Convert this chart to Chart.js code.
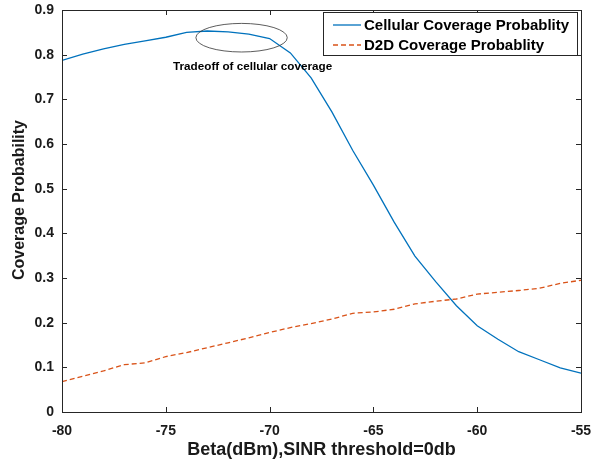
<!DOCTYPE html>
<html>
<head>
<meta charset="utf-8">
<script src="https://cdn.jsdelivr.net/npm/chart.js@4.4.1/dist/chart.umd.min.js"></script>
<style>
  html, body { margin: 0; padding: 0; background: #fff; }
  #wrap { width: 606px; height: 465px; position: relative; }
</style>
</head>
<body>
<div id="wrap"><canvas id="c" width="606" height="465"></canvas></div>
<script>
// x values (Beta, dBm)
var beta = [-80, -79, -78, -77, -76, -75, -74, -73, -72, -71, -70, -69, -68,
            -67, -66, -65, -64, -63, -62, -61, -60, -59, -58, -57, -56, -55];
var cellular = [0.787, 0.801, 0.813, 0.823, 0.831, 0.839, 0.850, 0.853, 0.851,
                0.846, 0.836, 0.804, 0.748, 0.672, 0.586, 0.508, 0.425, 0.349,
                0.292, 0.238, 0.193, 0.163, 0.135, 0.117, 0.099, 0.087];
var d2d = [0.068, 0.080, 0.092, 0.106, 0.110, 0.124, 0.133, 0.144, 0.155,
           0.166, 0.178, 0.189, 0.198, 0.208, 0.221, 0.224, 0.230, 0.242,
           0.248, 0.253, 0.264, 0.268, 0.272, 0.277, 0.288, 0.295];
var seriesNames = ["Cellular Coverage Probablity", "D2D Coverage Probablity"];
var xTicks = [-80, -75, -70, -65, -60, -55];
var yTicks = [0, 0.1, 0.2, 0.3, 0.4, 0.5, 0.6, 0.7, 0.8, 0.9];
var yTitle = "Coverage Probability";
var noteText = "Tradeoff of cellular coverage";
// ellipse around the peak: centre and radii in data units
var noteEllipse = { x: -71.35, y: 0.838, rx: 2.2, ry: 0.032 };

var ink = "#1a1a1a";
var fontFam = "'Liberation Sans', Arial, sans-serif";

function pts(ys) {
  return beta.map(function(b, i) { return { x: b, y: ys[i] }; });
}

// box + inward ticks, like matlab axes
var boxPlugin = {
  id: "box",
  afterDraw: function(chart) {
    var ctx = chart.ctx, a = chart.chartArea;
    var xs = chart.scales.x, ys = chart.scales.y;
    ctx.save();
    ctx.strokeStyle = "#262626";
    ctx.lineWidth = 1;
    ctx.strokeRect(a.left + 0.5, a.top + 0.5, a.right - a.left, a.bottom - a.top);
    ctx.beginPath();
    xTicks.forEach(function(v) {
      var px = Math.round(xs.getPixelForValue(v)) + 0.5;
      ctx.moveTo(px, a.bottom); ctx.lineTo(px, a.bottom - 5);
      ctx.moveTo(px, a.top); ctx.lineTo(px, a.top + 5);
    });
    yTicks.forEach(function(v) {
      var py = Math.round(ys.getPixelForValue(v)) + 0.5;
      ctx.moveTo(a.left, py); ctx.lineTo(a.left + 5, py);
      ctx.moveTo(a.right, py); ctx.lineTo(a.right - 5, py);
    });
    ctx.stroke();
    // y axis title, sits a bit above the middle in the original
    ctx.fillStyle = ink;
    ctx.font = "bold 16px " + fontFam;
    ctx.textAlign = "center";
    ctx.textBaseline = "middle";
    ctx.translate(20, 200);
    ctx.rotate(-Math.PI / 2);
    ctx.fillText(yTitle, 0, 0);
    ctx.restore();
  }
};

var notePlugin = {
  id: "note",
  afterDatasetsDraw: function(chart) {
    var ctx = chart.ctx;
    var xs = chart.scales.x, ys = chart.scales.y;
    var cx = xs.getPixelForValue(noteEllipse.x);
    var cy = ys.getPixelForValue(noteEllipse.y);
    var rx = xs.getPixelForValue(noteEllipse.x + noteEllipse.rx) - cx;
    var ry = cy - ys.getPixelForValue(noteEllipse.y + noteEllipse.ry);
    ctx.save();
    ctx.strokeStyle = "#333";
    ctx.lineWidth = 0.8;
    ctx.beginPath();
    ctx.ellipse(cx, cy, rx, ry, 0, 0, Math.PI * 2);
    ctx.stroke();
    ctx.fillStyle = "#000";
    ctx.font = "bold 11.7px " + fontFam;
    ctx.textAlign = "left";
    ctx.textBaseline = "middle";
    ctx.fillText(noteText, xs.getPixelForValue(-74.65), ys.getPixelForValue(0.772));
    ctx.restore();
  }
};

var legendPlugin = {
  id: "boxLegend",
  afterDraw: function(chart) {
    var ctx = chart.ctx;
    var bx = 323, by = 12, bw = 254, bh = 43;
    ctx.save();
    ctx.fillStyle = "#fff";
    ctx.fillRect(bx, by, bw, bh);
    ctx.strokeStyle = "#262626";
    ctx.lineWidth = 1;
    ctx.strokeRect(bx + 0.5, by + 0.5, bw, bh);
    ctx.font = "bold 15px " + fontFam;
    ctx.textBaseline = "middle";
    ctx.fillStyle = "#000";
    chart.data.datasets.forEach(function(ds, i) {
      var yy = by + 13 + i * 20;
      ctx.strokeStyle = ds.borderColor;
      ctx.lineWidth = 1.3;
      ctx.setLineDash(ds.borderDash || []);
      ctx.beginPath();
      ctx.moveTo(bx + 10, yy); ctx.lineTo(bx + 38, yy);
      ctx.stroke();
      ctx.setLineDash([]);
      ctx.fillText(ds.label, bx + 41, yy + 1);
    });
    ctx.restore();
  }
};

new Chart(document.getElementById("c"), {
  type: "line",
  data: {
    datasets: [
      { label: seriesNames[0], data: pts(cellular), borderColor: "#0072BD",
        borderWidth: 1.3, pointRadius: 0, fill: false, tension: 0 },
      { label: seriesNames[1], data: pts(d2d), borderColor: "#D95319",
        borderWidth: 1.3, borderDash: [5, 3], pointRadius: 0, fill: false, tension: 0 }
    ]
  },
  options: {
    responsive: false,
    animation: false,
    devicePixelRatio: 1,
    layout: { padding: { top: 10, right: 25, left: 0, bottom: 0 } },
    plugins: { legend: { display: false }, tooltip: { enabled: false } },
    scales: {
      x: {
        type: "linear", min: -80, max: -55,
        afterFit: function(s) { s.height = 53; s.paddingLeft = 0; s.paddingRight = 0; },
        afterBuildTicks: function(s) { s.ticks = xTicks.map(function(v) { return { value: v }; }); },
        grid: { display: false, drawTicks: false },
        border: { display: false },
        ticks: { padding: 11, color: ink, font: { family: fontFam, size: 14, weight: "bold" } },
        title: { display: true, text: "Beta(dBm),SINR threshold=0db", color: ink, padding: { top: 0, bottom: 4 },
                 font: { family: fontFam, size: 18, weight: "bold" } }
      },
      y: {
        type: "linear", min: 0, max: 0.9,
        afterFit: function(s) { s.width = 62; s.paddingTop = 0; s.paddingBottom = 0; },
        afterBuildTicks: function(s) { s.ticks = yTicks.map(function(v) { return { value: v }; }); },
        grid: { display: false, drawTicks: false },
        border: { display: false },
        ticks: { padding: 8, color: ink, font: { family: fontFam, size: 14, weight: "bold" },
                 callback: function(v) { return v === 0 ? "0" : v.toFixed(1); } },
        title: { display: false }
      }
    }
  },
  plugins: [notePlugin, boxPlugin, legendPlugin]
});
</script>
</body>
</html>
